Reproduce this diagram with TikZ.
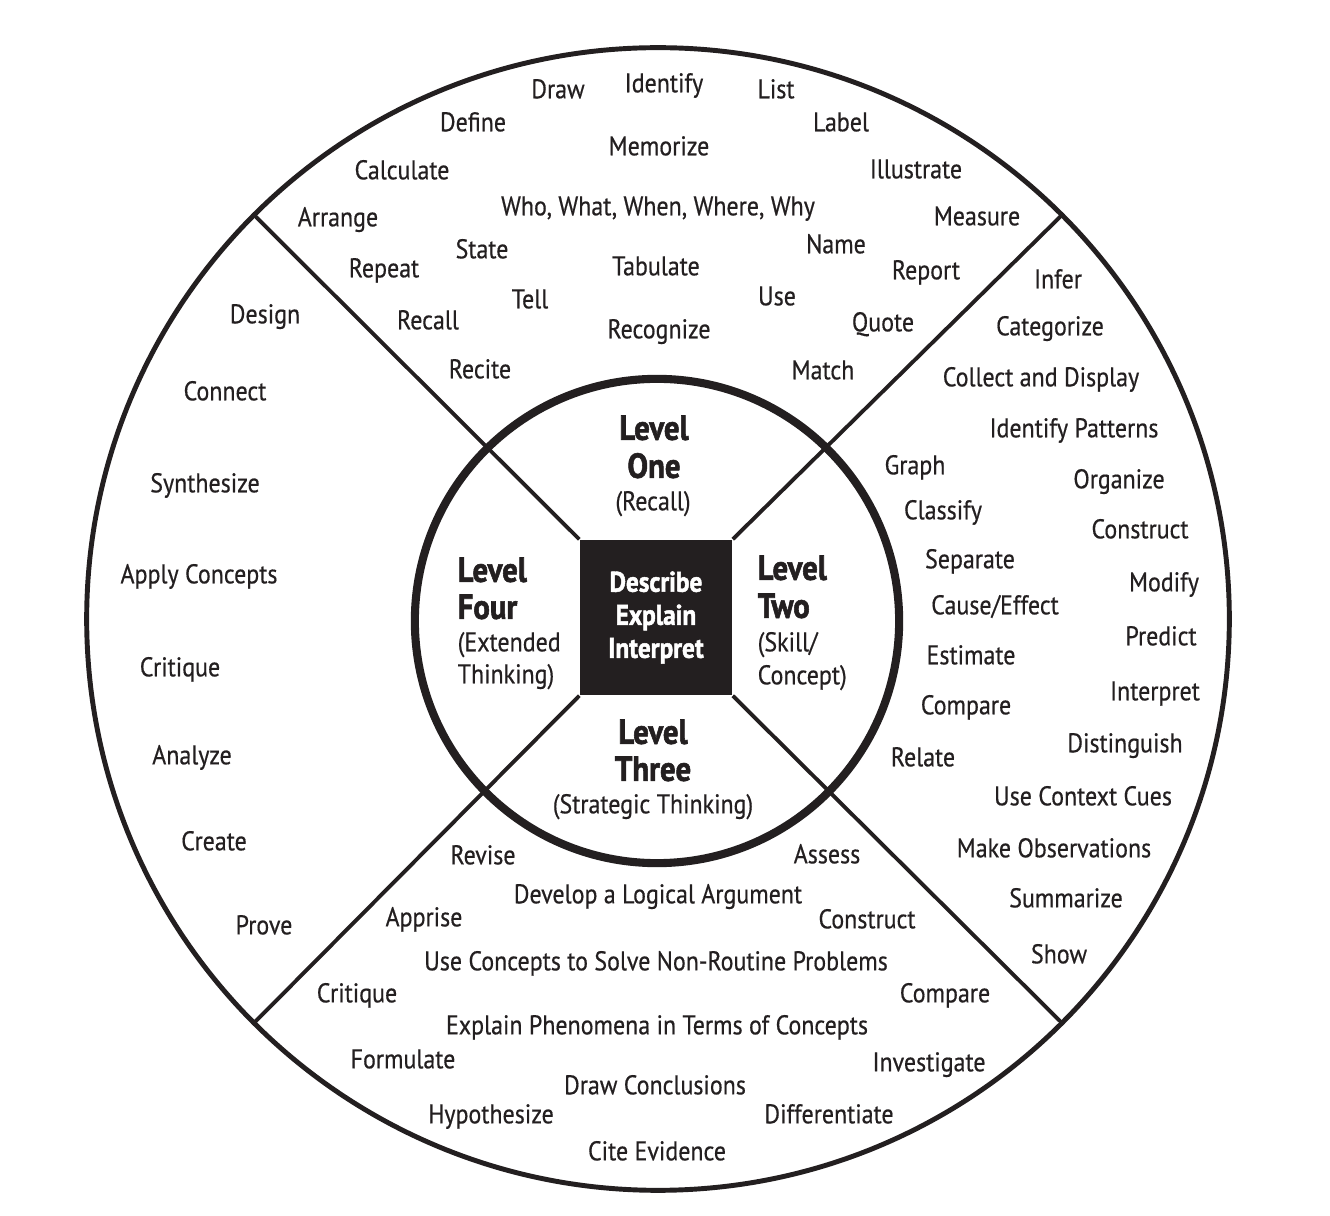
\documentclass[tikz,border=0pt]{standalone}
\usepackage{fontspec}
\setmainfont{PT Sans}[FakeStretch=0.885, FakeBold=0.5, BoldFeatures={FakeBold=1.6}]
\definecolor{ink}{HTML}{231F20}
\newcommand{\wordfont}{\fontsize{7.7}{9}\selectfont}
\newcommand{\levelfont}{\fontsize{9.9}{11}\selectfont\bfseries}
\tikzset{
  word/.style={font=\wordfont, text=ink, inner sep=0pt, text height=5.3pt, text depth=0pt},
  levelword/.style={font=\levelfont, text=ink, inner sep=0pt, text height=6.75pt, text depth=0pt},
  spoke/.style={draw=ink, line width=1.1pt}
}
\begin{document}
\begin{tikzpicture}[x=0.01cm,y=-0.01cm]
\useasboundingbox (0,0) rectangle (1330,1216);
% wheel
\node[circle, draw=ink, line width=1.4pt, minimum size=11.42cm, inner sep=0pt] (rim) at (658,619) {};
\node[circle, draw=ink, line width=2.3pt, minimum size=4.84cm, inner sep=0pt] (hub) at (657,621) {};
\node[fill=ink, minimum width=1.52cm, minimum height=1.55cm, inner sep=0pt, align=center,
  text=white, font=\fontsize{8.1}{9.4}\selectfont\bfseries] (core) at (656,617.5) {Describe\\Explain\\Interpret};
\draw[spoke] (core.north west) -- (rim.135);
\draw[spoke] (core.north east) -- (rim.45);
\draw[spoke] (core.south west) -- (rim.225);
\draw[spoke] (core.south east) -- (rim.315);
% levels
\node[levelword] (oneA) at (654,428) {Level};
\node[levelword] (oneB) at (654,466) {One};
\node[word] (oneC) at (653,501) {(Recall)};
\node[levelword, anchor=west] (twoA) at (757,568) {Level};
\node[levelword, anchor=west] (twoB) at (757,606) {Two};
\node[word, anchor=west] (twoC) at (757,642) {(Skill/};
\node[word, anchor=west] (twoD) at (757,675) {Concept)};
\node[levelword] (threeA) at (653,732) {Level};
\node[levelword] (threeB) at (653,769) {Three};
\node[word] (threeC) at (653,804) {(Strategic Thinking)};
\node[levelword, anchor=west] (fourA) at (457,570) {Level};
\node[levelword, anchor=west] (fourB) at (457,607) {Four};
\node[word, anchor=west] (fourC) at (457,642) {(Extended};
\node[word, anchor=west] (fourD) at (457,674) {Thinking)};
% level one words
\node[word] (draw) at (558,89) {Draw};
\node[word] (identify) at (664,83) {Identify};
\node[word] (list) at (776,89) {List};
\node[word] (define) at (473,122) {Define};
\node[word] (label) at (841,122) {Label};
\node[word] (memorize) at (659,146) {Memorize};
\node[word] (calculate) at (402,170) {Calculate};
\node[word] (illustrate) at (916,169) {Illustrate};
\node[word] (wh) at (658,206) {Who, What, When, Where, Why};
\node[word] (arrange) at (338,217) {Arrange};
\node[word] (measure) at (977,216) {Measure};
\node[word] (state) at (482,249) {State};
\node[word] (name) at (836,244) {Name};
\node[word] (repeat) at (384,268) {Repeat};
\node[word] (tabulate) at (656,266) {Tabulate};
\node[word] (report) at (926,270) {Report};
\node[word] (tell) at (530,299) {Tell};
\node[word] (use) at (777,296) {Use};
\node[word] (recall) at (428,320) {Recall};
\node[word] (recognize) at (659,329) {Recognize};
\node[word] (quote) at (883,322) {Quote};
\node[word] (recite) at (480,369) {Recite};
\node[word] (match) at (823,370) {Match};
% level two words
\node[word] (infer) at (1058,279) {Infer};
\node[word] (categorize) at (1050,326) {Categorize};
\node[word] (collect) at (1041,377) {Collect and Display};
\node[word] (patterns) at (1074,428) {Identify Patterns};
\node[word] (graph) at (915,465) {Graph};
\node[word] (organize) at (1119,479) {Organize};
\node[word] (classify) at (943,510) {Classify};
\node[word] (constructA) at (1140,529) {Construct};
\node[word] (separate) at (970,559) {Separate};
\node[word] (modify) at (1164,582) {Modify};
\node[word] (cause) at (995,605) {Cause/Effect};
\node[word] (predict) at (1161,636) {Predict};
\node[word] (estimate) at (971,655) {Estimate};
\node[word] (interpret) at (1155,691) {Interpret};
\node[word] (compareA) at (966,705) {Compare};
\node[word] (distinguish) at (1125,743) {Distinguish};
\node[word] (relate) at (923,757) {Relate};
\node[word] (cues) at (1083,796) {Use Context Cues};
\node[word] (observe) at (1054,848) {Make Observations};
\node[word] (summarize) at (1066,898) {Summarize};
\node[word] (show) at (1059,954) {Show};
% level three words
\node[word] (revise) at (483,855) {Revise};
\node[word] (assess) at (827,854) {Assess};
\node[word] (argument) at (658,894) {Develop a Logical Argument};
\node[word] (apprise) at (424,917) {Apprise};
\node[word] (constructB) at (867,919) {Construct};
\node[word] (solve) at (656,961) {Use Concepts to Solve Non-Routine Problems};
\node[word] (critiqueA) at (357,993) {Critique};
\node[word] (compareB) at (945,993) {Compare};
\node[word] (explain) at (657,1025) {Explain Phenomena in Terms of Concepts};
\node[word] (formulate) at (403,1059) {Formulate};
\node[word] (investigate) at (929,1062) {Investigate};
\node[word] (conclude) at (655,1085) {Draw Conclusions};
\node[word] (hypothesize) at (491,1114) {Hypothesize};
\node[word] (differentiate) at (829,1114) {Differentiate};
\node[word] (cite) at (657,1151) {Cite Evidence};
% level four words
\node[word] (design) at (265,314) {Design};
\node[word] (connect) at (225,391) {Connect};
\node[word] (synthesize) at (205,483) {Synthesize};
\node[word] (apply) at (199,574) {Apply Concepts};
\node[word] (critiqueB) at (180,667) {Critique};
\node[word] (analyze) at (192,755) {Analyze};
\node[word] (create) at (214,841) {Create};
\node[word] (prove) at (264,925) {Prove};
\end{tikzpicture}
\end{document}
